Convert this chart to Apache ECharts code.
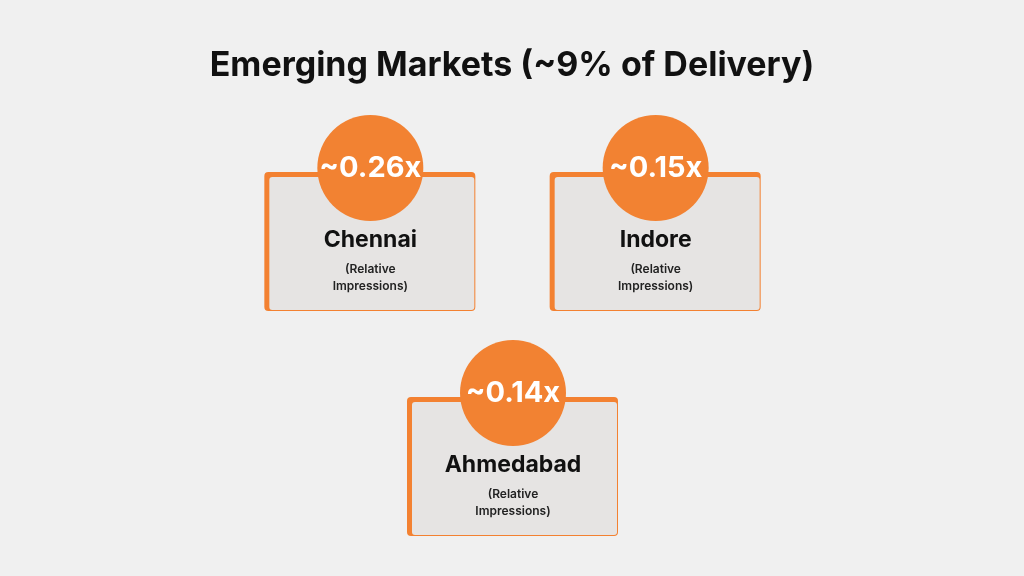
<!DOCTYPE html>
<html>
<head>
<meta charset="UTF-8">
<script src="https://cdn.jsdelivr.net/npm/echarts@6/dist/echarts.min.js"></script>
<style>
  html, body { margin: 0; padding: 0; background: #f0f0f0; }
  #main { width: 1024px; height: 576px; }
</style>
</head>
<body>
<div id="main"></div>
<script>
var cities = ['Chennai', 'Indore', 'Ahmedabad'];
var multipliers = [0.26, 0.15, 0.14];
var cols = [0, 2, 1];
var rows = [0, 0, 1];

var chart = echarts.init(document.getElementById('main'));
var FONT = 'Inter, "Open Sans", sans-serif';

var option = {
  backgroundColor: '#f0f0f0',
  title: {
    text: 'Emerging Markets (~9% of Delivery)',
    left: 'center',
    top: 44,
    textStyle: { fontFamily: FONT, fontSize: 34, fontWeight: 'bold', color: '#111' }
  },
  grid: { left: 299, width: 428, top: 55.5, height: 450 },
  xAxis: { type: 'value', min: -0.5, max: 2.5, show: false },
  yAxis: { type: 'value', min: -0.5, max: 1.5, inverse: true, show: false },
  series: [{
    type: 'custom',
    data: cities.map(function (c, i) { return [cols[i], rows[i], multipliers[i], c]; }),
    renderItem: function (params, api) {
      var p = api.coord([api.value(0), api.value(1)]);
      var cx = p[0], cy = p[1];
      var name = cities[params.dataIndex];
      var val = '~' + multipliers[params.dataIndex].toFixed(2) + 'x';
      var x0 = cx - 106, y0 = cy + 4, w = 211, h = 139;
      return {
        type: 'group',
        children: [
          { type: 'rect', shape: { x: x0, y: y0, width: w, height: h, r: 4 }, style: { fill: '#f38131' } },
          { type: 'rect', shape: { x: x0 + 5, y: y0 + 5, width: w - 6, height: h - 6, r: 3 }, style: { fill: '#e6e4e3' } },
          { type: 'circle', shape: { cx: cx, cy: cy, r: 53 }, style: { fill: '#f28232' } },
          { type: 'text', style: { text: val, x: cx, y: cy, align: 'center', verticalAlign: 'middle',
              font: 'bold 29px ' + FONT, fill: '#fff' } },
          { type: 'text', style: { text: name, x: cx, y: cy + 72, align: 'center', verticalAlign: 'middle',
              font: 'bold 23px ' + FONT, fill: '#111' } },
          { type: 'text', style: { text: '(Relative\nImpressions)', x: cx, y: cy + 110, align: 'center', verticalAlign: 'middle',
              font: '600 12px ' + FONT, fill: '#222', lineHeight: 17 } }
        ]
      };
    }
  }]
};

chart.setOption(option);
window.addEventListener('resize', function () { chart.resize(); });
</script>
</body>
</html>
